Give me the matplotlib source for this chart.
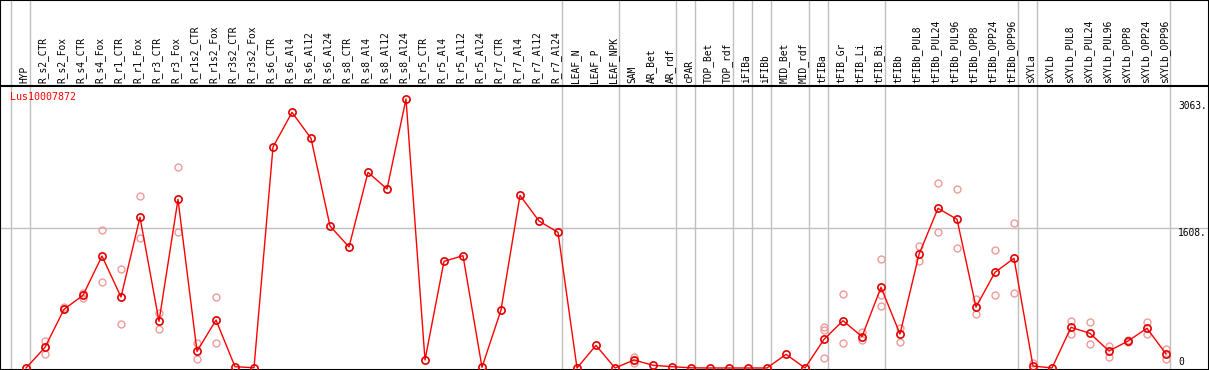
import matplotlib
matplotlib.use('Agg')
import matplotlib.pyplot as plt
import matplotlib.transforms as mtransforms

plt.rc('font', family='DejaVu Sans Mono', size=6.9)

gene = 'Lus10007872'

samples = ['HYP', 'R_s2_CTR', 'R_s2_Fox', 'R_s4_CTR', 'R_s4_Fox', 'R_r1_CTR', 'R_r1_Fox',
           'R_r3_CTR', 'R_r3_Fox', 'R_r1s2_CTR', 'R_r1s2_Fox', 'R_r3s2_CTR', 'R_r3s2_Fox',
           'R_s6_CTR', 'R_s6_Al4', 'R_s6_Al12', 'R_s6_Al24', 'R_s8_CTR', 'R_s8_Al4',
           'R_s8_Al12', 'R_s8_Al24', 'R_r5_CTR', 'R_r5_Al4', 'R_r5_Al12', 'R_r5_Al24',
           'R_r7_CTR', 'R_r7_Al4', 'R_r7_Al12', 'R_r7_Al24', 'LEAF_N', 'LEAF_P', 'LEAF_NPK',
           'SAM', 'AR_Bet', 'AR_rdf', 'cPAR', 'TOP_Bet', 'TOP_rdf', 'iFIBa', 'iFIBb',
           'MID_Bet', 'MID_rdf', 'tFIBa', 'tFIB_Gr', 'tFIB_Li', 'tFIB_Bi', 'tFIBb',
           'tFIBb_PUL8', 'tFIBb_PUL24', 'tFIBb_PUL96', 'tFIBb_OPP8', 'tFIBb_OPP24',
           'tFIBb_OPP96', 'sXYLa', 'sXYLb', 'sXYLb_PUL8', 'sXYLb_PUL24', 'sXYLb_PUL96',
           'sXYLb_OPP8', 'sXYLb_OPP24', 'sXYLb_OPP96']

means = [0, 237, 674, 835, 1286, 815, 1731, 536, 1937, 191, 551, 15, 3,
         2538, 2936, 2638, 1631, 1390, 2247, 2056, 3090, 92, 1225, 1290, 8,
         666, 1983, 1688, 1558, 0, 260, 0,
         92, 31, 15, 2, 0, 0, 0, 0, 157, 0,
         329, 543, 360, 927, 390, 1305, 1834, 1708, 700, 1099, 1260,
         23, 0, 467, 398, 195, 310, 456, 161]

# replicate values per sample (empty = hidden under the mean marker)
reps = [[], [310, 157, 245], [704, 678], [808, 861], [1581, 984], [1137, 505], [1975, 1489],
        [635, 444], [2305, 1558], [283, 100], [815, 283], [], [],
        [], [], [], [], [], [], [], [], [], [], [], [],
        [], [], [], [], [], [], [],
        [130, 61, 92], [], [], [], [], [], [], [], [], [],
        [475, 436, 111], [846, 287], [410, 322], [1252, 838, 712], [463, 302],
        [1401, 1229], [2121, 1558], [2052, 1374], [789, 620], [1355, 838], [1662, 857],
        [54], [], [540, 387], [525, 276], [256, 130], [321, 295], [532, 387], [215, 107]]

group_ends = [-1, 0, 28, 31, 34, 35, 37, 38, 39, 41, 42, 45, 52, 53, 60]
ytick_vals = [3063, 1608, 0]
ytick_text = ['3063.', '1608.', '0']

W, H = 1209, 370
fig = plt.figure(figsize=(W / 100, H / 100), dpi=100)
ax = fig.add_axes([0, 0, 1, 1])

# pixel geometry: column i at x = 26 + 19 i, value 0 at y = 368, 0.08707 px per unit
px_per_unit = 0.08707
ax.set_xlim(-26 / 19, (W - 26) / 19)
ax.set_ylim(-(H - 368) / px_per_unit, 368 / px_per_unit)
ax.set_xticks([])
ax.set_yticks([])
for s in ax.spines.values():
    s.set_color('black')
    s.set_linewidth(1.5)

for g in group_ends:
    ax.axvline(g + 0.23, color='#c0c0c0', lw=1, zorder=1)
ax.axhline(1608, color='#c0c0c0', lw=1, zorder=1)
ax.axhline((368 - 85.5) / px_per_unit, color='black', lw=1.5, zorder=2)

x = list(range(len(samples)))
rx = [i for i, r in zip(x, reps) for _ in r]
ry = [v for r in reps for v in r]
ax.plot(rx, ry, 'o', ms=5, mfc='none', mec='#f09a9a', mew=1, zorder=3)
ax.plot(x, means, '-', color='#ff0000', lw=1, zorder=4)
ax.plot(x, means, 'o', ms=5.2, mfc='none', mec='#e00000', mew=1.2, zorder=5)

# pixel -> axes fraction helper for text
def py(y):
    return (H - y) / H

def pxf(xp):
    return xp / W

ylab = mtransforms.blended_transform_factory(ax.transData, ax.transAxes)
for i, name in enumerate(samples):
    ax.text(i - 0.1, py(83), name, rotation=90, ha='center', va='bottom',
            transform=ylab, color='black')

ax.text(pxf(10), py(97), gene, color='#ff0000', ha='left', va='center',
        transform=ax.transAxes, fontsize=7.2)

for v, t in zip(ytick_vals, ytick_text):
    ypix = 368 - v * px_per_unit
    if v == 0:
        ypix = 362
    else:
        ypix += 5
    ax.text(pxf(1178), py(ypix), t, ha='left', va='center',
            transform=ax.transAxes, color='black')

fig.savefig('out.png', dpi=100)
plt.close(fig)
